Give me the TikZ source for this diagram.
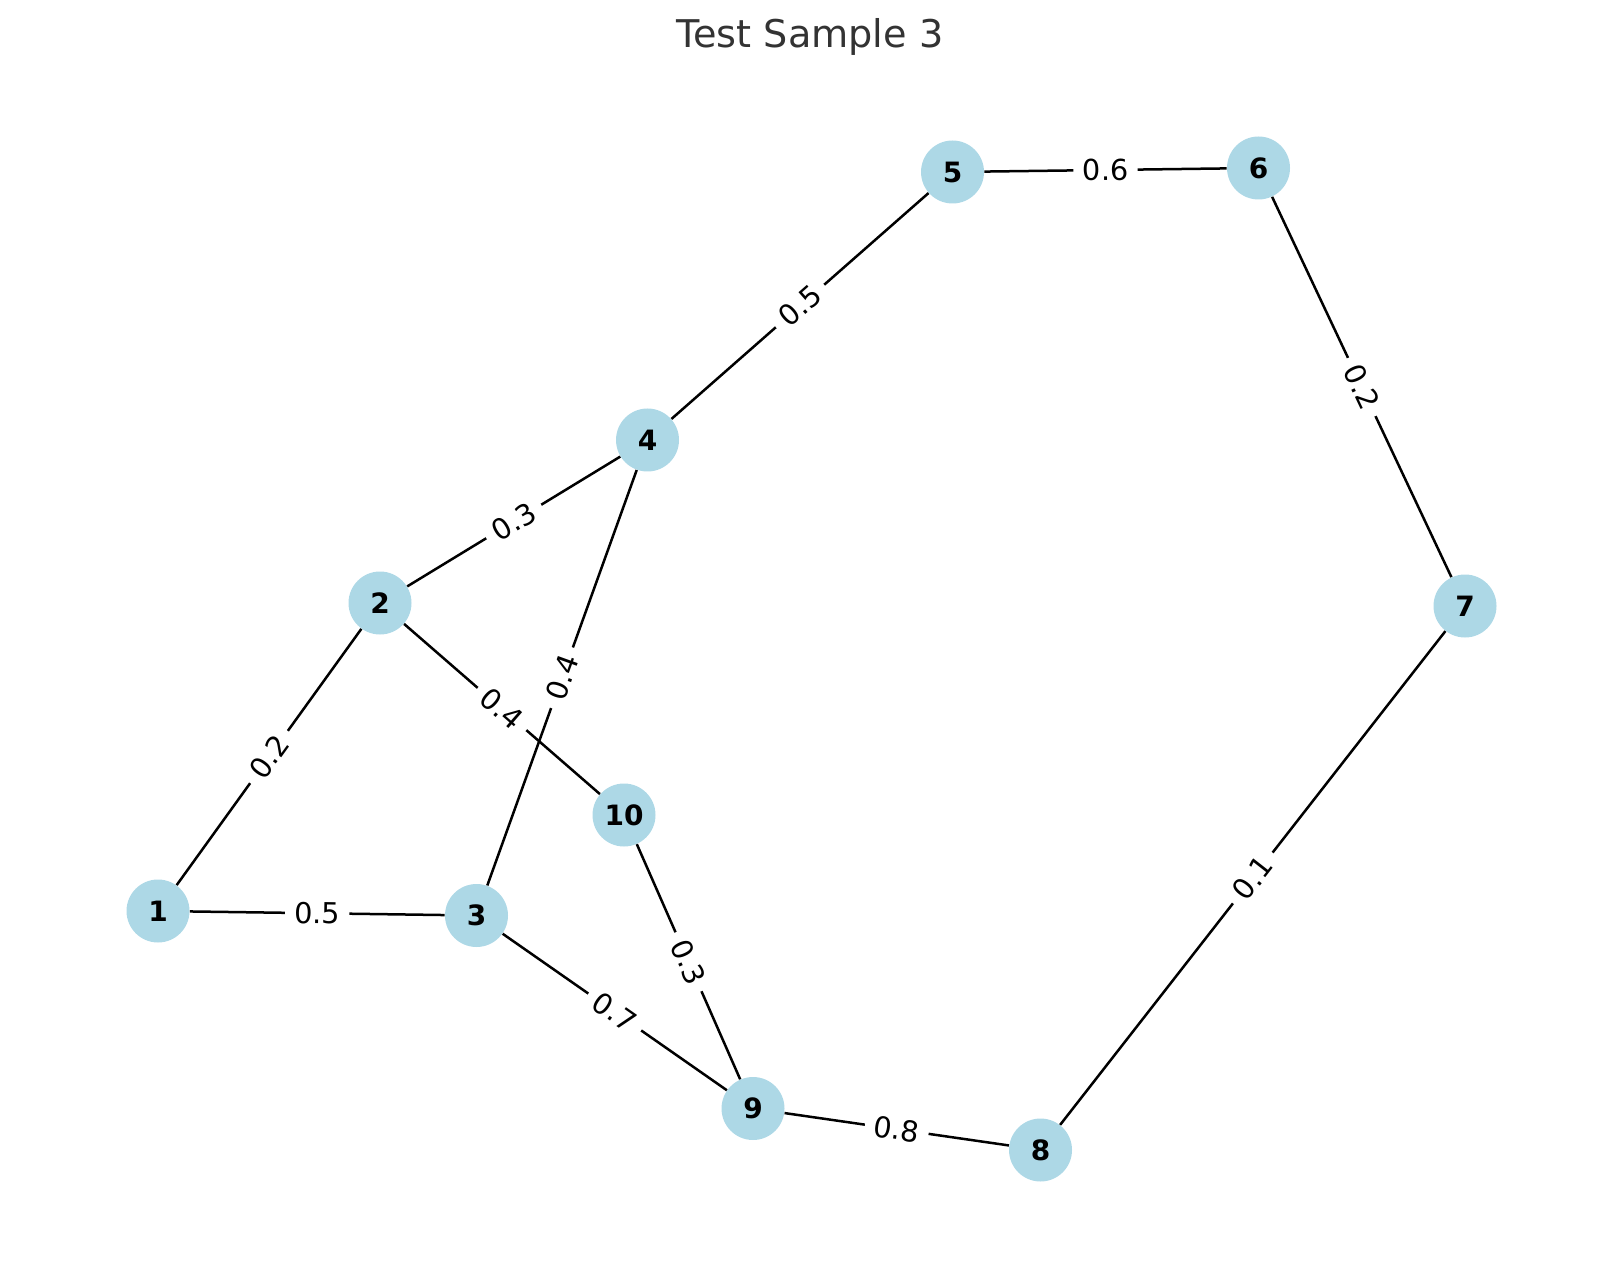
\documentclass[tikz,border=0pt]{standalone}
\usepackage{fontspec}
\setmainfont{DejaVu Sans}
\definecolor{nodeblue}{HTML}{ADD8E6}
\definecolor{titlegray}{HTML}{333333}
\tikzset{
  vert/.style={circle, fill=nodeblue, minimum size=31.5pt, inner sep=0pt,
    font=\fontsize{14}{14}\selectfont\bfseries},
  wlabel/.style={midway, sloped, fill=white, rounded corners=3pt, inner xsep=4.6pt, inner ysep=2.5pt,
    font=\fontsize{14.4}{14.4}\selectfont},
  edge/.style={draw=black, line width=1.25pt}
}
\begin{document}
\begin{tikzpicture}[x=0.5pt, y=-0.5pt]
\useasboundingbox (0,0) rectangle (1621,1272);
\node[anchor=base, text=titlegray, font=\fontsize{19.1}{19.1}\selectfont] (title) at (810,47.3) {Test Sample 3};
\node[vert] (n1) at (158,911) {1};
\node[vert] (n2) at (380,603) {2};
\node[vert] (n3) at (476.5,915.5) {3};
\node[vert] (n4) at (647.5,440) {4};
\node[vert] (n5) at (952.5,172) {5};
\node[vert] (n6) at (1258.5,168) {6};
\node[vert] (n7) at (1465,606) {7};
\node[vert] (n8) at (1040.5,1150) {8};
\node[vert] (n9) at (753,1108.5) {9};
\node[vert] (n10) at (624,815) {10};
\path[edge] (n1) -- (n2) node[wlabel] {0.2};
\path[edge] (n1) -- (n3) node[wlabel] {0.5};
\path[edge] (n2) -- (n4) node[wlabel] {0.3};
\path[edge] (n2) -- (n10) node[wlabel] {0.4};
\path[edge] (n3) -- (n4) node[wlabel] {0.4};
\path[edge] (n3) -- (n9) node[wlabel] {0.7};
\path[edge] (n4) -- (n5) node[wlabel] {0.5};
\path[edge] (n5) -- (n6) node[wlabel] {0.6};
\path[edge] (n6) -- (n7) node[wlabel] {0.2};
\path[edge] (n7) -- (n8) node[wlabel] {0.1};
\path[edge] (n9) -- (n8) node[wlabel] {0.8};
\path[edge] (n10) -- (n9) node[wlabel] {0.3};
\end{tikzpicture}
\end{document}
